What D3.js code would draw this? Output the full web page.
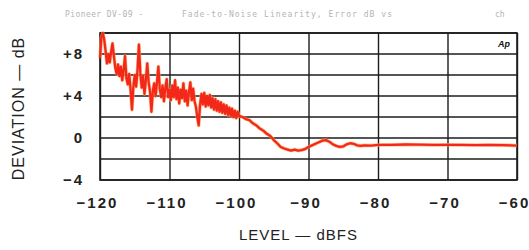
<!DOCTYPE html>
<html>
<head>
<meta charset="utf-8">
<script src="https://cdn.jsdelivr.net/npm/d3@7"></script>
<style>
  body { margin: 0; background: #fff; }
  svg { display: block; }
  .tick text { font-family: "Liberation Sans", Arial, sans-serif; font-weight: bold; fill: #222; }
</style>
</head>
<body>
<svg id="grafico" width="529" height="250"></svg>
<script>
// niveis do eixo x (dBFS) e desvios (dB)
const nivelTicks = [-120, -110, -100, -90, -80, -70, -60];
const desvioTicks = [-4, 0, 4, 8];
const desvioGrade = [-4, -2, 0, 2, 4, 6, 8, 10];

// trecho ruidoso, -120 a -100 dBFS
const niveisRuido = [
  -120, -119.8, -119.6, -119.4, -119.2, -119, -118.8, -118.6, -118.4, -118.2,
  -118, -117.8, -117.6, -117.4, -117.2, -117, -116.8, -116.6, -116.4, -116.2,
  -116, -115.8, -115.6, -115.4, -115.2, -115, -114.8, -114.6, -114.4, -114.2,
  -114, -113.8, -113.6, -113.4, -113.2, -113, -112.8, -112.6, -112.4, -112.2,
  -112, -111.8, -111.6, -111.4, -111.2, -111, -110.8, -110.6, -110.4, -110.2,
  -110, -109.8, -109.6, -109.4, -109.2, -109, -108.8, -108.6, -108.4, -108.2,
  -108, -107.8, -107.6, -107.4, -107.2, -107, -106.8, -106.6, -106.4, -106.2,
  -106, -105.8, -105.6, -105.4, -105.2, -105, -104.8, -104.6, -104.4, -104.2,
  -104, -103.8, -103.6, -103.4, -103.2, -103, -102.8, -102.6, -102.4, -102.2,
  -102, -101.8, -101.6, -101.4, -101.2, -101, -100.8, -100.6, -100.4, -100.2,
  -100
];
const desviosRuido = [
  7.6, 9.6, 10.0, 9.4, 8.3, 7.1, 8.0, 7.2, 8.2, 9.0,
  7.8, 6.7, 6.1, 7.0, 5.9, 6.8, 5.5, 6.5, 7.8, 5.7,
  5.1, 6.1, 4.6, 2.7, 4.9, 6.0, 4.9, 6.5, 8.9, 6.2,
  4.8, 5.9, 4.2, 5.5, 7.1, 5.3, 4.4, 2.5, 4.5, 5.2,
  4.0, 5.3, 6.8, 4.7, 3.9, 5.0, 3.5, 4.8, 5.6, 3.9,
  4.6, 3.6, 5.0, 3.9, 5.5, 3.7, 4.8, 3.3, 4.6, 3.8,
  5.2, 3.5, 4.5, 3.1, 4.4, 5.3, 3.6, 4.7, 3.5, 3.0,
  2.0, 1.2, 3.2, 4.2, 3.2, 4.3, 3.0, 4.0, 3.1, 4.1,
  2.9, 3.8, 2.7, 3.7, 2.6, 3.5, 2.5, 3.4, 2.4, 3.2,
  2.3, 3.1, 2.2, 2.9, 2.1, 2.8, 2.0, 2.6, 1.9, 2.5,
  2.1
];

// trecho suave, -99.5 a -60 dBFS
const niveisSuave = [
  -99.5, -99, -98.5, -98, -97.5, -97, -96.5, -96, -95.5, -95,
  -94.5, -94, -93.5, -93, -92.5, -92, -91.5, -91, -90.5, -90,
  -89.5, -89, -88.5, -88, -87.5, -87, -86.5, -86, -85.5, -85,
  -84.5, -84, -83.5, -83, -82.5, -82, -81, -80, -78, -76,
  -74, -72, -70, -68, -66, -64, -62, -60
];
const desviosSuave = [
  2.0, 1.8, 1.7, 1.4, 1.2, 0.9, 0.7, 0.4, 0.2, -0.2,
  -0.5, -0.85, -1.0, -1.1, -1.2, -1.1, -1.2, -1.15, -1.05, -0.85,
  -0.7, -0.55, -0.4, -0.25, -0.2, -0.35, -0.6, -0.75, -0.85, -0.8,
  -0.6, -0.5, -0.55, -0.7, -0.75, -0.7, -0.72, -0.66, -0.65, -0.62,
  -0.64, -0.66, -0.65, -0.66, -0.67, -0.66, -0.68, -0.72
];

const svg = d3.select("#grafico");
const esq = 100, dir = 517, topo = 33, base = 180;

const x = d3.scaleLinear().domain([-120, -60]).range([esq, dir]);
const y = d3.scaleLinear().domain([-4, 10]).range([base, topo]);

// cabecalho apagado
const cab = svg.append("g")
  .attr("font-family", "DejaVu Sans Mono, monospace")
  .attr("font-size", 8)
  .attr("fill", "#b4b4b4");
cab.append("text").attr("x", 65).attr("y", 17).attr("textLength", 78).text("Pioneer DV-09 -");
cab.append("text").attr("x", 182).attr("y", 17).attr("textLength", 210).text("Fade-to-Noise Linearity, Error dB vs");
cab.append("text").attr("x", 495).attr("y", 17).text("ch");

// grade horizontal
svg.append("g")
  .selectAll("line")
  .data(desvioGrade)
  .join("line")
  .attr("x1", esq).attr("x2", dir)
  .attr("y1", d => y(d)).attr("y2", d => y(d))
  .attr("stroke", "#1c1c1c")
  .attr("stroke-width", 1.4);

// grade vertical + rotulos do eixo x
const eixoX = svg.append("g")
  .attr("transform", `translate(0,${base})`)
  .call(d3.axisBottom(x)
    .tickValues(nivelTicks)
    .tickSize(-(base - topo))
    .tickFormat(d => "\u2212" + Math.abs(d)));
eixoX.select(".domain").remove();
eixoX.selectAll(".tick line").attr("stroke", "#1c1c1c").attr("stroke-width", 1.4);
eixoX.selectAll(".tick text")
  .attr("font-size", 15)
  .attr("letter-spacing", 2)
  .attr("dx", -3)
  .attr("dy", "0.35em")
  .attr("y", 23);

// rotulos do eixo y
const eixoY = svg.append("g")
  .attr("transform", `translate(${esq},0)`)
  .call(d3.axisLeft(y)
    .tickValues(desvioTicks)
    .tickSize(0)
    .tickPadding(16)
    .tickFormat(d => d > 0 ? "+" + d : d < 0 ? "\u2212" + Math.abs(d) : "0"));
eixoY.select(".domain").remove();
eixoY.selectAll(".tick text").attr("font-size", 15).attr("letter-spacing", 2);

// moldura
svg.append("rect")
  .attr("x", esq).attr("y", topo)
  .attr("width", dir - esq).attr("height", base - topo)
  .attr("fill", "none")
  .attr("stroke", "#1c1c1c")
  .attr("stroke-width", 1.6);

// curva
const pontos = niveisRuido.map((n, i) => [n, desviosRuido[i]])
  .concat(niveisSuave.map((n, i) => [n, desviosSuave[i]]));

const linha = d3.line()
  .x(d => x(d[0]))
  .y(d => y(d[1]));

svg.append("path")
  .datum(pontos)
  .attr("d", linha)
  .attr("fill", "none")
  .attr("stroke", "#ffa45a")
  .attr("stroke-width", 3.6)
  .attr("stroke-linejoin", "round")
  .attr("opacity", 0.7);

svg.append("path")
  .datum(pontos)
  .attr("d", linha)
  .attr("fill", "none")
  .attr("stroke", "#f3281a")
  .attr("stroke-width", 2.3)
  .attr("stroke-linejoin", "round");

// logo Ap
svg.append("text")
  .attr("x", 510).attr("y", 47)
  .attr("text-anchor", "end")
  .attr("font-family", "Liberation Sans, Arial, sans-serif")
  .attr("font-size", 9)
  .attr("font-weight", "bold")
  .attr("font-style", "italic")
  .attr("fill", "#111")
  .text("Ap");

// titulos dos eixos
svg.append("text")
  .attr("x", (esq + dir) / 2 - 10).attr("y", 240)
  .attr("text-anchor", "middle")
  .attr("font-family", "Liberation Sans, Arial, sans-serif")
  .attr("font-size", 15)
  .attr("fill", "#222")
  .attr("letter-spacing", 1)
  .text("LEVEL \u2014 dBFS");

svg.append("text")
  .attr("transform", `translate(24,${(topo + base) / 2 + 2}) rotate(-90)`)
  .attr("text-anchor", "middle")
  .attr("font-family", "Liberation Sans, Arial, sans-serif")
  .attr("font-size", 16)
  .attr("fill", "#222")
  .attr("letter-spacing", 1)
  .text("DEVIATION \u2014 dB");
</script>
</body>
</html>
